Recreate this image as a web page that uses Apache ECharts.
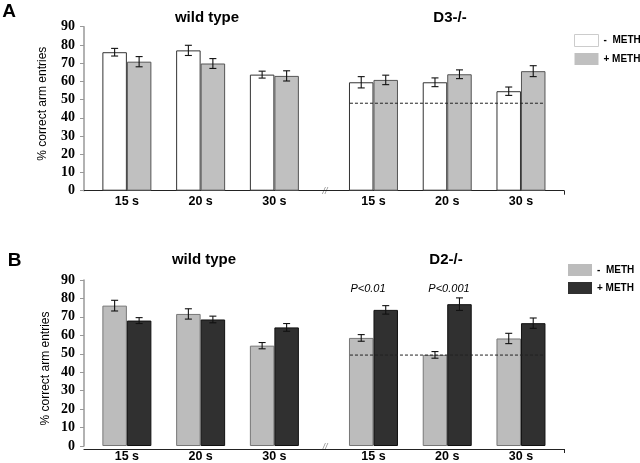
<!DOCTYPE html>
<html><head><meta charset="utf-8">
<script src="https://cdn.jsdelivr.net/npm/echarts@6/dist/echarts.min.js"></script>
<style>html,body{margin:0;padding:0;background:#fff}#c{width:640px;height:463px}</style>
</head><body><div id="c"></div>
<script>
// ---- data ----
const categories = ['15 s', '20 s', '30 s'];
const yTicksMax = 90;
// Panel A
const aWtMinus = [76.0, 77.0, 63.7];
const aWtMinusErr = [2.1, 2.8, 1.9];
const aWtPlus = [70.8, 69.8, 63.0];
const aWtPlusErr = [2.8, 2.7, 2.8];
const aKoMinus = [59.5, 59.5, 54.6];
const aKoMinusErr = [3.1, 2.4, 2.3];
const aKoPlus = [60.8, 63.9, 65.6];
const aKoPlusErr = [2.6, 2.4, 3.0];
const aKoRef = 48.0;
// Panel B
const bWtMinus = [76.1, 71.6, 54.4];
const bWtMinusErr = [2.9, 2.8, 1.7];
const bWtPlus = [68.0, 68.6, 64.3];
const bWtPlusErr = [1.6, 1.8, 2.1];
const bKoMinus = [58.6, 49.4, 58.3];
const bKoMinusErr = [1.8, 1.8, 2.8];
const bKoPlus = [73.8, 76.9, 66.6];
const bKoPlusErr = [2.3, 3.4, 2.8];
const bKoRef = 49.3;
const pLabels = ['P<0.01', 'P<0.001'];

// ---- styling ----
const SANS = 'Liberation Sans, Arial, sans-serif';
const SERIF = 'Liberation Serif, Times New Roman, serif';
const BW = 24.5;
const colA = {minus: '#ffffff', minusB: '#333333', plus: '#c0c0c0', plusB: '#555555'};
const colB = {minus: '#bcbcbc', minusB: '#777777', plus: '#303030', plusB: '#111111'};

const chart = echarts.init(document.getElementById('c'), null, {renderer: 'canvas'});

const grids = [
  {left: 90, width: 221.25, top: 26.7, height: 164},   // A wt
  {left: 336.6, width: 221.25, top: 26.7, height: 164}, // A ko
  {left: 84, width: 480, top: 26.7, height: 164},       // A baseline
  {left: 90, width: 221.25, top: 280, height: 169},     // B wt
  {left: 336.6, width: 221.25, top: 280, height: 169},  // B ko
  {left: 84, width: 480, top: 280, height: 169}         // B baseline
];

function catX(gi) {
  return {type: 'category', gridIndex: gi, data: categories,
    axisLine: {show: false}, axisTick: {show: false},
    axisLabel: {fontFamily: SANS, fontWeight: 'bold', fontSize: 12.5, color: '#000', margin: 4}};
}
function baseX(gi) {
  return {type: 'value', gridIndex: gi, min: 0, max: 1,
    axisLine: {show: true, lineStyle: {color: '#222', width: 1.2}},
    axisTick: {show: true, customValues: [1], length: 4, lineStyle: {color: '#222'}},
    axisLabel: {show: false}, splitLine: {show: false}};
}
function visY(gi, nameGap, pad) {
  return {type: 'value', gridIndex: gi, min: 0, max: yTicksMax, interval: 10, offset: 6,
    name: '% correct arm entries', nameLocation: 'middle', nameGap: nameGap,
    nameTextStyle: {fontFamily: SANS, fontSize: 12, color: '#000', padding: pad},
    axisLine: {show: true, lineStyle: {color: '#999', width: 1.5}},
    axisTick: {show: true, length: 4, lineStyle: {color: '#999'}},
    axisLabel: {fontFamily: SERIF, fontWeight: 'bold', fontSize: 14, color: '#000', margin: 9},
    splitLine: {show: false}};
}
function hidY(gi) {
  return {type: 'value', gridIndex: gi, min: 0, max: yTicksMax, show: false, splitLine: {show: false}};
}

function barSeries(name, gi, data, fill, border) {
  return {type: 'bar', name: name, xAxisIndex: gi, yAxisIndex: gi, data: data, z: 2,
    barWidth: BW, barGap: '0%', itemStyle: {color: fill, borderColor: border, borderWidth: 1},
    emphasis: {disabled: true}};
}
function errSeries(gi, vals, errs, side) {
  return {type: 'custom', xAxisIndex: gi, yAxisIndex: gi, silent: true, z: 10,
    data: vals.map((v, i) => [i, v, errs[i]]),
    renderItem: function (params, api) {
      const i = api.value(0), v = api.value(1), e = api.value(2);
      const x = api.coord([i, v])[0] + side * BW / 2;
      const yh = api.coord([i, v + e])[1];
      const yl = api.coord([i, v - e])[1];
      const st = {stroke: '#111', lineWidth: 1.1};
      return {type: 'group', children: [
        {type: 'line', shape: {x1: x, y1: yh, x2: x, y2: yl}, style: st},
        {type: 'line', shape: {x1: x - 3.5, y1: yh, x2: x + 3.5, y2: yh}, style: st},
        {type: 'line', shape: {x1: x - 3.5, y1: yl, x2: x + 3.5, y2: yl}, style: st}
      ]};
    }};
}
function refSeries(gi, ref) {
  return {type: 'custom', xAxisIndex: gi, yAxisIndex: gi, silent: true, z: 5,
    data: [[0, ref]],
    renderItem: function (params, api) {
      const r = api.value(1);
      const p0 = api.coord([0, r]);
      const p2 = api.coord([categories.length - 1, r]);
      return {type: 'line', shape: {x1: p0[0] - BW + 1, y1: p0[1], x2: p2[0] + BW - 1, y2: p0[1]},
        style: {stroke: '#222', lineWidth: 1, lineDash: [3, 2]}};
    }};
}

function txt(x, y, text, font, fill, align) {
  return {type: 'text', x: x, y: y, silent: true,
    style: {text: text, font: font, fill: fill || '#000', align: align || 'center', verticalAlign: 'middle',
      textAlign: align || 'center', textVerticalAlign: 'middle'}};
}

const option = {
  animation: false,
  backgroundColor: '#fff',
  grid: grids,
  xAxis: [catX(0), catX(1), baseX(2), catX(3), catX(4), baseX(5)],
  yAxis: [visY(0, 35, [0, 0, 0, 10]), hidY(1), hidY(2), visY(3, 32, [0, 11, 0, 0]), hidY(4), hidY(5)],
  legend: [
    {orient: 'vertical', left: 574, top: 34, padding: 0, itemWidth: 24, itemHeight: 12, itemGap: 6, icon: 'rect',
      selectedMode: false, formatter: n => n.slice(1),
      textStyle: {fontFamily: SANS, fontWeight: 'bold', fontSize: 10, color: '#000'},
      data: [{name: 'a-  METH', itemStyle: {color: '#ffffff', borderColor: '#cccccc', borderWidth: 1}},
             {name: 'a+ METH', itemStyle: {color: '#c0c0c0', borderColor: '#c0c0c0', borderWidth: 0}}]},
    {orient: 'vertical', left: 568, top: 264, padding: 0, itemWidth: 24, itemHeight: 12, itemGap: 6, icon: 'rect',
      selectedMode: false, formatter: n => n.slice(1),
      textStyle: {fontFamily: SANS, fontWeight: 'bold', fontSize: 10, color: '#000'},
      data: [{name: 'b-  METH', itemStyle: {color: '#bcbcbc', borderColor: '#bcbcbc', borderWidth: 0}},
             {name: 'b+ METH', itemStyle: {color: '#303030', borderColor: '#303030', borderWidth: 0}}]}
  ],
  series: [
    barSeries('a-  METH', 0, aWtMinus, colA.minus, colA.minusB),
    barSeries('a+ METH', 0, aWtPlus, colA.plus, colA.plusB),
    barSeries('a-  METH', 1, aKoMinus, colA.minus, colA.minusB),
    barSeries('a+ METH', 1, aKoPlus, colA.plus, colA.plusB),
    errSeries(0, aWtMinus, aWtMinusErr, -1),
    errSeries(0, aWtPlus, aWtPlusErr, 1),
    errSeries(1, aKoMinus, aKoMinusErr, -1),
    errSeries(1, aKoPlus, aKoPlusErr, 1),
    refSeries(1, aKoRef),
    barSeries('b-  METH', 3, bWtMinus, colB.minus, colB.minusB),
    barSeries('b+ METH', 3, bWtPlus, colB.plus, colB.plusB),
    barSeries('b-  METH', 4, bKoMinus, colB.minus, colB.minusB),
    barSeries('b+ METH', 4, bKoPlus, colB.plus, colB.plusB),
    errSeries(3, bWtMinus, bWtMinusErr, -1),
    errSeries(3, bWtPlus, bWtPlusErr, 1),
    errSeries(4, bKoMinus, bKoMinusErr, -1),
    errSeries(4, bKoPlus, bKoPlusErr, 1),
    refSeries(4, bKoRef)
  ],
  graphic: [
    txt(9, 12, 'A', 'bold 19px ' + SANS),
    txt(207, 17.5, 'wild type', 'bold 15px ' + SANS),
    txt(450, 18, 'D3-/-', 'bold 15px ' + SANS),
    txt(325, 191, '//', 'italic 9px ' + SANS, '#888'),
    txt(14.5, 261, 'B', 'bold 19px ' + SANS),
    txt(204, 260, 'wild type', 'bold 15px ' + SANS),
    txt(446, 260, 'D2-/-', 'bold 15px ' + SANS),
    txt(325, 447, '//', 'italic 9px ' + SANS, '#888'),
    txt(368, 289, pLabels[0], 'italic 11px ' + SANS),
    txt(449, 289, pLabels[1], 'italic 11px ' + SANS)
  ]
};
chart.setOption(option);
</script>
</body></html>
